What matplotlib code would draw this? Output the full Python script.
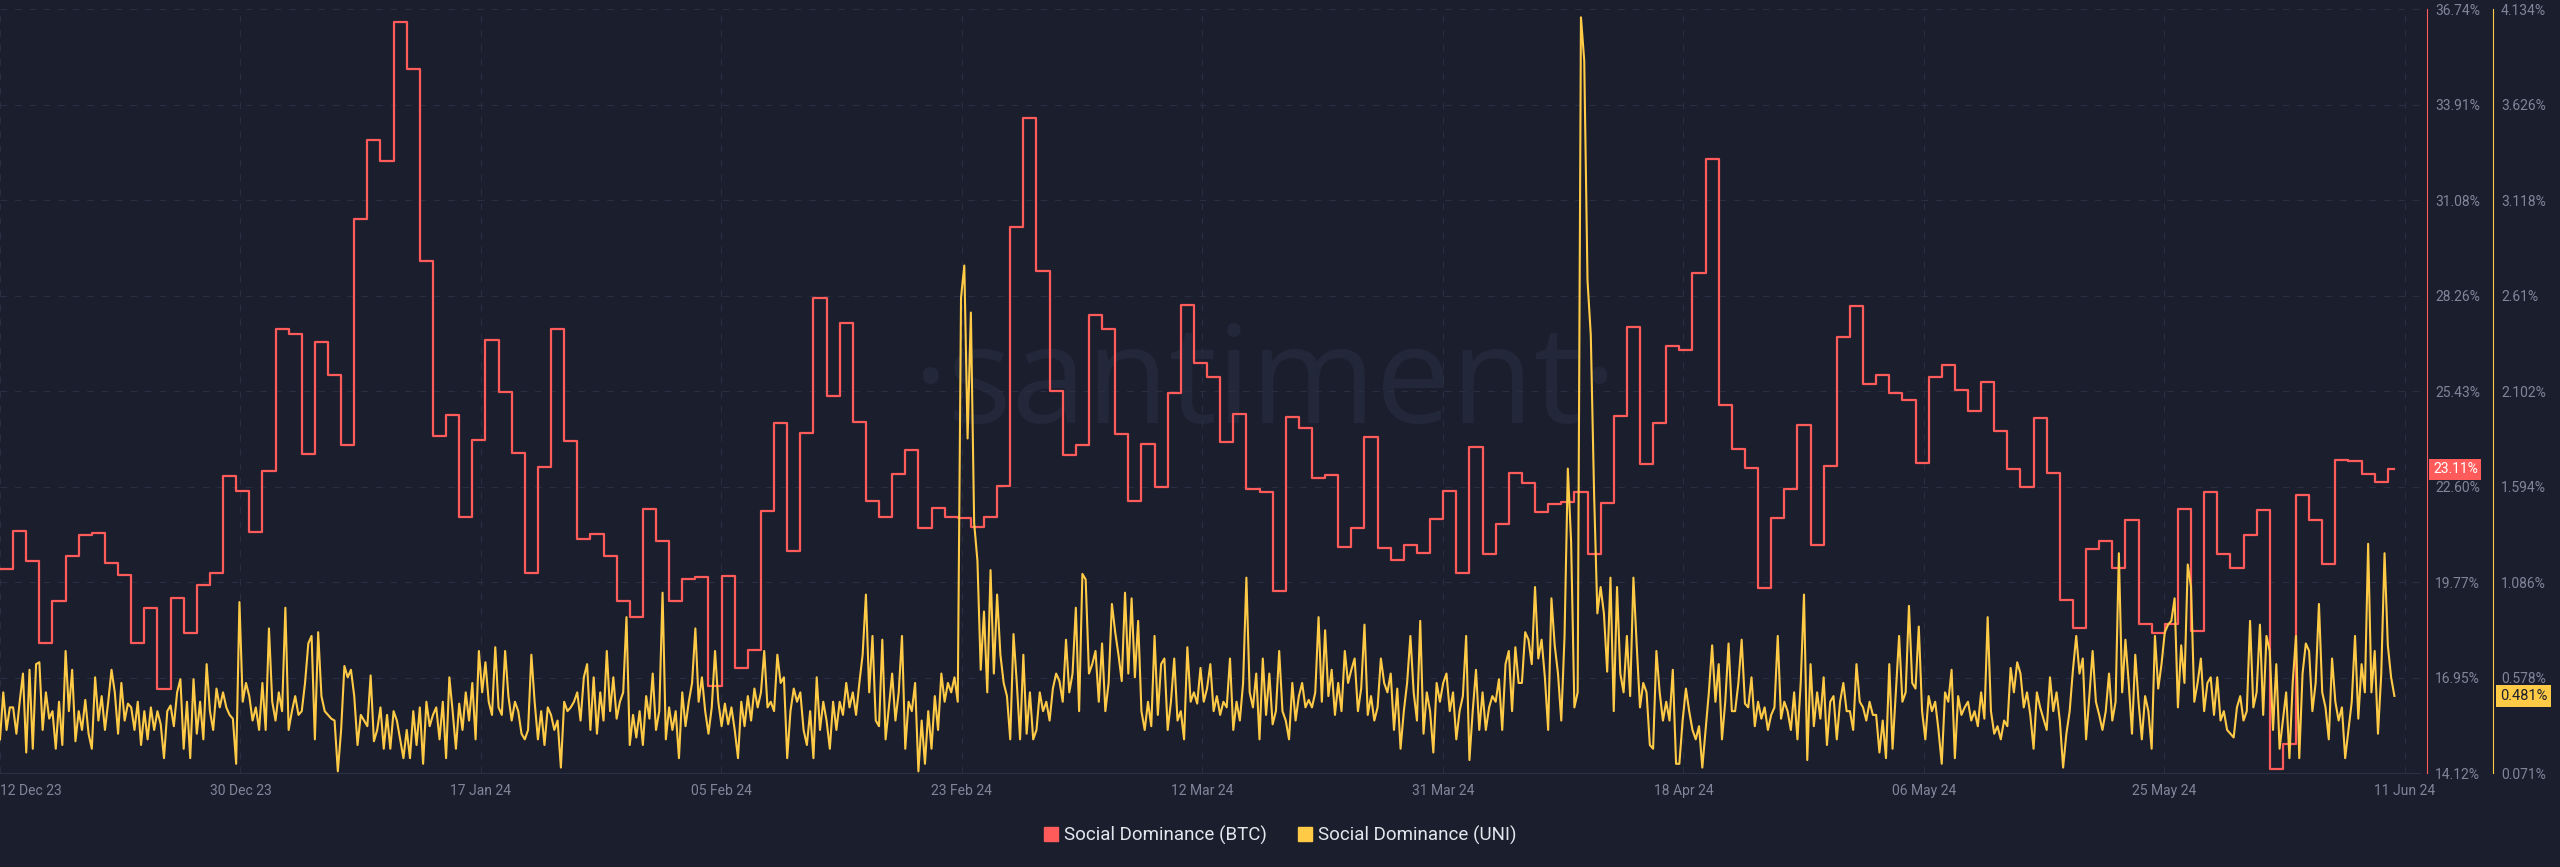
import numpy as np
import matplotlib.pyplot as plt
from matplotlib.lines import Line2D

# daily BTC social dominance (%), 12 Dec 23 -> 11 Jun 24
btc_dominance = [
    20.17, 21.28, 20.41, 17.96, 19.20, 20.54, 21.16, 21.23, 20.35, 19.97,
    17.96, 19.01, 16.61, 19.29, 18.26, 19.70, 20.03, 22.91, 22.47, 21.25,
    23.07, 27.27, 27.11, 23.57, 26.89, 25.89, 23.82, 30.53, 32.85, 32.25,
    36.37, 34.97, 29.27, 24.09, 24.71, 21.69, 23.97, 26.95, 25.39, 23.60,
    20.03, 23.19, 27.27, 23.96, 21.04, 21.20, 20.54, 19.20, 18.74, 21.95,
    20.98, 19.20, 19.85, 19.92, 16.71, 19.95, 17.23, 17.77, 21.88, 24.47,
    20.69, 24.18, 28.17, 25.27, 27.43, 24.52, 22.16, 21.69, 22.98, 23.69,
    21.37, 21.97, 21.69, 21.67, 21.39, 21.69, 22.63, 30.30, 33.50, 28.98,
    25.44, 23.53, 23.82, 27.67, 27.27, 24.16, 22.16, 23.85, 22.60, 25.36,
    27.99, 26.25, 25.84, 23.93, 24.75, 22.53, 22.44, 19.52, 24.66, 24.34,
    22.84, 22.93, 20.82, 21.38, 24.06, 20.78, 20.42, 20.86, 20.63, 21.63,
    22.48, 20.05, 23.78, 20.61, 21.50, 23.01, 22.71, 21.84, 22.09, 22.15,
    22.45, 20.61, 22.10, 24.69, 27.34, 23.28, 24.49, 26.76, 26.65, 28.92,
    32.31, 25.03, 23.71, 23.16, 19.61, 21.66, 22.53, 24.41, 20.88, 23.21,
    27.02, 27.96, 25.65, 25.90, 25.36, 25.16, 23.31, 25.84, 26.20, 25.46,
    24.84, 25.71, 24.24, 23.12, 22.60, 24.63, 23.00, 19.23, 18.40, 20.75,
    21.00, 20.20, 21.60, 18.52, 18.27, 18.52, 21.95, 18.33, 22.44, 20.61,
    20.20, 21.17, 21.90, 14.25, 14.99, 22.34, 21.60, 20.32, 23.40, 23.37,
    22.96, 22.74, 23.11,
]

# UNI social dominance (%), 4 readings a day
uni_dominance = [
    0.25, 0.5, 0.3, 0.42, 0.42, 0.28, 0.45, 0.6, 0.18, 0.62, 0.2, 0.65, 0.66, 0.3, 0.5, 0.36, 0.4, 0.2, 0.45, 0.22,
    0.72, 0.4, 0.62, 0.24, 0.4, 0.3, 0.46, 0.28, 0.2, 0.58, 0.35, 0.48, 0.3, 0.45, 0.62, 0.5, 0.28, 0.55, 0.35, 0.44,
    0.42, 0.3, 0.45, 0.22, 0.4, 0.25, 0.42, 0.3, 0.4, 0.33, 0.15, 0.4, 0.43, 0.32, 0.5, 0.57, 0.2, 0.45, 0.15, 0.57,
    0.28, 0.45, 0.25, 0.65, 0.4, 0.3, 0.52, 0.42, 0.5, 0.42, 0.38, 0.36, 0.12, 0.98, 0.45, 0.55, 0.48, 0.35, 0.42, 0.3,
    0.55, 0.3, 0.84, 0.45, 0.35, 0.5, 0.4, 0.95, 0.3, 0.4, 0.48, 0.38, 0.4, 0.55, 0.76, 0.8, 0.25, 0.82, 0.48, 0.4,
    0.38, 0.36, 0.35, 0.08, 0.3, 0.64, 0.58, 0.62, 0.48, 0.22, 0.38, 0.35, 0.32, 0.59, 0.24, 0.3, 0.42, 0.2, 0.38, 0.2,
    0.4, 0.35, 0.25, 0.15, 0.3, 0.15, 0.4, 0.22, 0.42, 0.12, 0.45, 0.32, 0.38, 0.42, 0.25, 0.45, 0.15, 0.58, 0.4, 0.2,
    0.44, 0.3, 0.5, 0.35, 0.55, 0.25, 0.72, 0.5, 0.66, 0.45, 0.38, 0.74, 0.42, 0.38, 0.72, 0.48, 0.35, 0.45, 0.4, 0.28,
    0.25, 0.3, 0.7, 0.45, 0.25, 0.4, 0.22, 0.42, 0.38, 0.3, 0.35, 0.1, 0.45, 0.4, 0.42, 0.45, 0.5, 0.35, 0.58, 0.65,
    0.3, 0.58, 0.28, 0.5, 0.35, 0.72, 0.4, 0.58, 0.36, 0.45, 0.5, 0.9, 0.22, 0.38, 0.26, 0.4, 0.22, 0.48, 0.36, 0.6,
    0.3, 0.4, 1.03, 0.25, 0.42, 0.3, 0.4, 0.15, 0.5, 0.32, 0.45, 0.55, 0.84, 0.45, 0.58, 0.4, 0.28, 0.42, 0.72, 0.45,
    0.32, 0.44, 0.33, 0.42, 0.3, 0.15, 0.45, 0.32, 0.48, 0.35, 0.52, 0.42, 0.5, 0.72, 0.42, 0.45, 0.4, 0.7, 0.55, 0.58,
    0.15, 0.4, 0.52, 0.45, 0.5, 0.3, 0.22, 0.4, 0.15, 0.58, 0.3, 0.45, 0.35, 0.2, 0.45, 0.3, 0.45, 0.38, 0.55, 0.42,
    0.5, 0.38, 0.55, 0.7, 1.02, 0.5, 0.8, 0.35, 0.32, 0.78, 0.25, 0.42, 0.6, 0.35, 0.5, 0.8, 0.2, 0.45, 0.4, 0.55,
    0.08, 0.35, 0.12, 0.4, 0.2, 0.48, 0.3, 0.6, 0.45, 0.55, 0.5, 0.58, 0.45, 2.6, 2.77, 1.85, 2.52, 1.4, 1.2, 0.62,
    0.93, 0.5, 1.15, 0.6, 1.02, 0.7, 0.55, 0.48, 0.25, 0.81, 0.55, 0.25, 0.7, 0.28, 0.5, 0.25, 0.3, 0.5, 0.4, 0.45,
    0.35, 0.52, 0.6, 0.56, 0.45, 0.78, 0.5, 0.6, 0.95, 0.4, 1.13, 1.1, 0.6, 0.65, 0.72, 0.45, 0.76, 0.4, 0.55, 0.97,
    0.82, 0.7, 0.56, 1.03, 0.6, 1.0, 0.58, 0.88, 0.4, 0.3, 0.45, 0.32, 0.8, 0.38, 0.65, 0.68, 0.3, 0.45, 0.68, 0.35,
    0.4, 0.25, 0.74, 0.45, 0.5, 0.44, 0.63, 0.45, 0.52, 0.65, 0.4, 0.48, 0.38, 0.45, 0.42, 0.68, 0.3, 0.45, 0.35, 0.55,
    1.11, 0.5, 0.42, 0.6, 0.25, 0.68, 0.38, 0.6, 0.33, 0.4, 0.72, 0.4, 0.35, 0.25, 0.55, 0.35, 0.48, 0.55, 0.42, 0.46,
    0.42, 0.5, 0.9, 0.45, 0.83, 0.48, 0.62, 0.38, 0.55, 0.4, 0.72, 0.55, 0.62, 0.68, 0.4, 0.52, 0.86, 0.38, 0.48, 0.35,
    0.42, 0.68, 0.55, 0.5, 0.6, 0.3, 0.52, 0.2, 0.4, 0.55, 0.8, 0.5, 0.35, 0.88, 0.28, 0.5, 0.4, 0.18, 0.55, 0.45,
    0.55, 0.6, 0.4, 0.5, 0.25, 0.4, 0.48, 0.8, 0.14, 0.4, 0.62, 0.3, 0.5, 0.3, 0.42, 0.48, 0.45, 0.57, 0.3, 0.65,
    0.72, 0.4, 0.74, 0.55, 0.55, 0.82, 0.78, 0.65, 1.06, 0.68, 0.78, 0.58, 0.3, 1.0, 0.75, 0.6, 0.35, 0.8, 1.69, 1.3,
    0.42, 0.5, 4.09, 3.86, 2.69, 2.4, 1.56, 0.92, 1.06, 0.92, 0.61, 1.11, 0.4, 1.06, 0.6, 0.5, 0.8, 0.48, 1.11, 0.75,
    0.42, 0.55, 0.5, 0.22, 0.2, 0.72, 0.5, 0.35, 0.45, 0.35, 0.62, 0.12, 0.12, 0.35, 0.52, 0.4, 0.3, 0.25, 0.32, 0.1,
    0.3, 0.5, 0.75, 0.45, 0.65, 0.25, 0.45, 0.76, 0.4, 0.4, 0.55, 0.78, 0.44, 0.42, 0.58, 0.32, 0.45, 0.36, 0.42, 0.3,
    0.38, 0.42, 0.8, 0.36, 0.45, 0.4, 0.3, 0.5, 0.25, 0.55, 1.02, 0.14, 0.65, 0.32, 0.5, 0.36, 0.58, 0.22, 0.45, 0.48,
    0.25, 0.45, 0.55, 0.4, 0.4, 0.3, 0.65, 0.45, 0.42, 0.35, 0.45, 0.38, 0.38, 0.18, 0.35, 0.15, 0.65, 0.2, 0.5, 0.8,
    0.45, 0.5, 0.96, 0.55, 0.52, 0.85, 0.4, 0.25, 0.48, 0.4, 0.45, 0.3, 0.12, 0.5, 0.45, 0.62, 0.15, 0.48, 0.38, 0.42,
    0.45, 0.35, 0.4, 0.32, 0.5, 0.36, 0.9, 0.4, 0.28, 0.32, 0.25, 0.35, 0.32, 0.63, 0.5, 0.66, 0.6, 0.42, 0.5, 0.38,
    0.2, 0.5, 0.42, 0.36, 0.3, 0.58, 0.4, 0.5, 0.35, 0.1, 0.28, 0.4, 0.62, 0.8, 0.6, 0.68, 0.25, 0.48, 0.72, 0.45,
    0.38, 0.3, 0.4, 0.6, 0.35, 0.45, 1.24, 0.5, 0.78, 0.55, 0.28, 0.7, 0.45, 0.25, 0.48, 0.4, 0.2, 0.8, 0.52, 0.65,
    0.82, 0.86, 0.88, 1.0, 0.42, 0.75, 0.55, 1.18, 1.06, 0.45, 0.55, 0.68, 0.4, 0.55, 0.58, 0.38, 0.58, 0.35, 0.4, 0.3,
    0.28, 0.26, 0.42, 0.48, 0.35, 0.4, 0.88, 0.42, 0.5, 0.86, 0.38, 0.8, 0.72, 0.3, 0.65, 0.2, 0.35, 0.5, 0.15, 0.55,
    0.8, 0.15, 0.6, 0.76, 0.72, 0.4, 0.55, 0.97, 0.5, 0.42, 0.25, 0.68, 0.45, 0.35, 0.42, 0.15, 0.3, 0.45, 0.8, 0.36,
    0.65, 0.5, 1.29, 0.5, 0.72, 0.28, 0.6, 1.24, 0.75, 0.58, 0.481,
]

date_labels = ["12 Dec 23", "30 Dec 23", "17 Jan 24", "05 Feb 24", "23 Feb 24", "12 Mar 24",
               "31 Mar 24", "18 Apr 24", "06 May 24", "25 May 24", "11 Jun 24"]
btc_tick_labels = ["14.12%", "16.95%", "19.77%", "22.60%", "25.43%", "28.26%", "31.08%", "33.91%", "36.74%"]
uni_tick_labels = ["0.071%", "0.578%", "1.086%", "1.594%", "2.102%", "2.61%", "3.118%", "3.626%", "4.134%"]
series_names = ["Social Dominance (BTC)", "Social Dominance (UNI)"]

# colours
BG = '#1b1e2d'
RED = '#ff5b5b'
YELLOW = '#ffcb47'
GRID = '#2a2e41'
TEXT = '#80859a'

plt.rcParams['font.family'] = ['Roboto', 'DejaVu Sans']

fig = plt.figure(figsize=(25.6, 8.67), dpi=100)
fig.patch.set_facecolor(BG)
ax = fig.add_axes([0, 0.1084, 0.9453, 0.8812])
ax.set_facecolor(BG)
ax2 = ax.twinx()
ax2.patch.set_visible(False)

btc = np.array(btc_dominance)
uni = np.array(uni_dominance)
uni_x = np.arange(len(uni)) / 4
btc_x = np.append(np.arange(len(btc)), uni_x[-1])
btc_y = np.append(btc, btc[-1])

# watermark behind the lines
ax.text(0.5227, 0.458, '·santiment·', transform=ax.transAxes, ha='center', va='baseline',
        fontsize=97, color='#23273a', family='Open Sans', zorder=0)

ax.plot(btc_x, btc_y, drawstyle='steps-post', color=RED, lw=1.6)
ax2.plot(uni_x, uni, color=YELLOW, lw=1.5)

# x axis
ax.set_xlim(0, 184.45)
ax.set_xticks(np.arange(len(date_labels)) * 18.33, date_labels)
ax.get_xticklabels()[0].set_ha('left')
ax.tick_params(axis='x', length=0, pad=8, colors=TEXT, labelsize=10)

# y axes
ax.set_ylim(14.12, 36.74)
ax.set_yticks(np.linspace(14.12, 36.74, len(btc_tick_labels)), btc_tick_labels)
ax2.set_ylim(0.071, 4.134)
ax2.set_yticks(np.linspace(0.071, 4.134, len(uni_tick_labels)), uni_tick_labels)
ax.yaxis.tick_right()
ax.tick_params(axis='y', length=0, pad=5.8, colors=TEXT, labelsize=10)
ax2.tick_params(axis='y', length=0, pad=5.8, colors=TEXT, labelsize=10)

ax.grid(True, color=GRID, linestyle=(0, (6, 7)), linewidth=0.8)
ax.set_axisbelow(True)

# spines
for s in ['top', 'left']:
    ax.spines[s].set_visible(False)
ax.spines['bottom'].set_color('#2c3043')
ax.spines['right'].set_position(('outward', 5))
ax.spines['right'].set_color(RED)
for s in ['top', 'left', 'bottom']:
    ax2.spines[s].set_visible(False)
ax2.spines['right'].set_position(('outward', 52.6))
ax2.spines['right'].set_color(YELLOW)

# last value tags
ax.annotate(f"{btc[-1]:.2f}%", xy=(1, btc[-1]), xycoords=ax.get_yaxis_transform(),
            xytext=(13, 0), textcoords='offset pixels', ha='left', va='center',
            color='white', fontsize=10, annotation_clip=False,
            bbox=dict(boxstyle='square,pad=0.25', fc=RED, ec='none'))
ax2.annotate(f"{uni[-1]:.3f}%", xy=(1, uni[-1]), xycoords=ax2.get_yaxis_transform(),
             xytext=(80, 0), textcoords='offset pixels', ha='left', va='center',
             color=BG, fontsize=10.5, annotation_clip=False,
             bbox=dict(boxstyle='square,pad=0.25', fc=YELLOW, ec='none'))

# legend
handles = [Line2D([], [], marker='s', ls='none', color=c, markersize=10) for c in (RED, YELLOW)]
fig.legend(handles, series_names, loc='center', bbox_to_anchor=(0.5, 1 - 835 / 867), ncol=2,
           frameon=False, fontsize=13.5, labelcolor='#e4e6ee', handlelength=0.8,
           handletextpad=0.3, columnspacing=1.6)

fig.savefig('out.png', dpi=100, facecolor=BG)
